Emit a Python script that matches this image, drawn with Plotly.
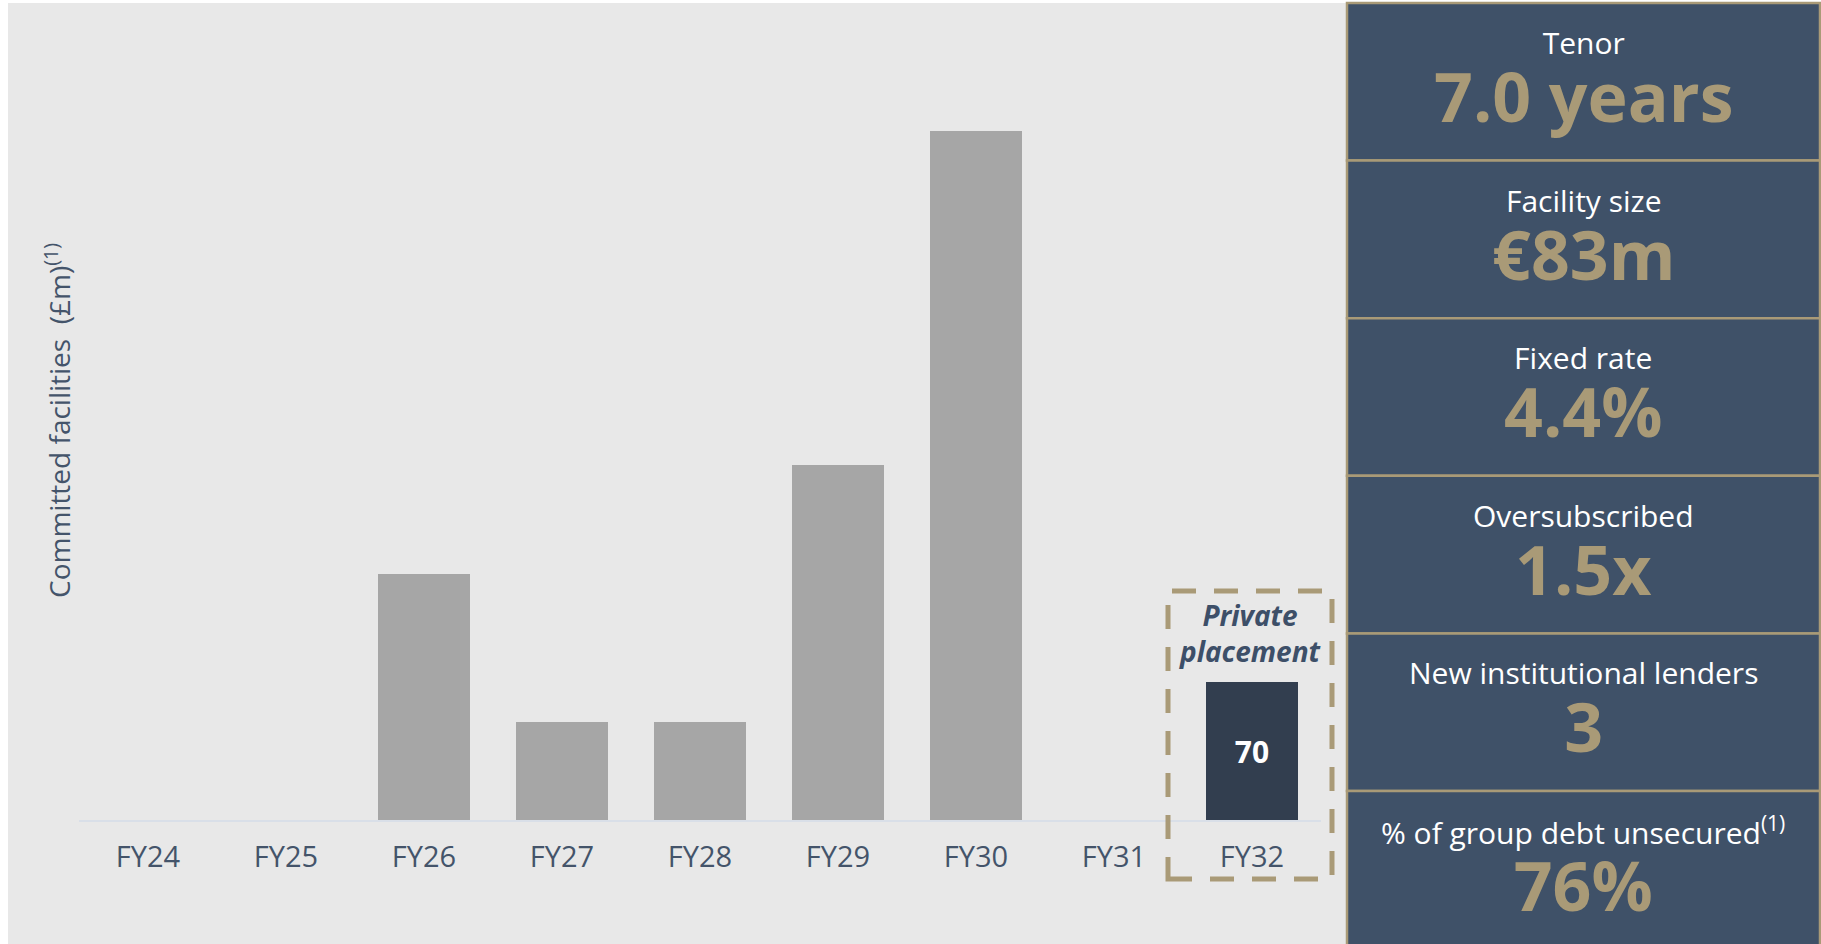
import plotly.graph_objects as go

W, H = 1821, 944

# ---- data ----
categories = ["FY24", "FY25", "FY26", "FY27", "FY28", "FY29", "FY30", "FY31", "FY32"]
existing_base = [None, None, 125, 50, 50, 180, 250, None, None]
existing_top = [None, None, None, None, None, None, 100, None, None]
private_placement = [None, None, None, None, None, None, None, None, 70]

panel_labels = ["Tenor", "Facility size", "Fixed rate", "Oversubscribed",
                "New institutional lenders", "% of group debt unsecured<sup>(1)</sup>"]
panel_values = ["7.0 years", "€83m", "4.4%", "1.5x", "3", "76%"]

# ---- styles ----
BG = "#e8e8e8"
GREY = "#a6a6a6"
NAVY_BAR = "#323e4f"
PANEL = "#3f5168"
GOLD = "#a99a77"
SLATE = "#44546a"
FONT = "Open Sans"


def px(x):
    return x / W


def py(y):
    return 1 - y / H


fig = go.Figure()
fig.add_trace(go.Bar(x=categories, y=existing_base, marker_color=GREY,
                     marker_line_width=0, hoverinfo="skip"))
fig.add_trace(go.Bar(x=categories, y=existing_top, marker_color=GREY,
                     marker_line_width=0, hoverinfo="skip"))
fig.add_trace(go.Bar(x=categories, y=private_placement, marker_color=NAVY_BAR,
                     marker_line_width=0,
                     text=[None if v is None else f"{v}" for v in private_placement],
                     textposition="inside", insidetextanchor="middle",
                     textfont=dict(family=FONT, size=30, color="white", weight="bold"),
                     hoverinfo="skip"))

shapes = []
# chart background
shapes.append(dict(type="rect", xref="paper", yref="paper", layer="below",
                   x0=px(8), x1=px(1346), y0=py(944), y1=py(3),
                   fillcolor=BG, line_width=0))
# dashed private placement box
shapes.append(dict(type="rect", xref="paper", yref="paper", layer="above",
                   x0=px(1168), x1=px(1332), y0=py(879), y1=py(591),
                   fillcolor="rgba(0,0,0,0)",
                   line=dict(color=GOLD, width=5, dash="24px,18px")))

annotations = []
# side panel boxes: one annotation per box (label line + value line)
box_top = 3
box_h = 157.6
for i, (lab, val) in enumerate(zip(panel_labels, panel_values)):
    y0 = box_top + i * box_h
    shapes.append(dict(type="rect", xref="paper", yref="paper", layer="above",
                       x0=px(1347), x1=px(1820), y0=py(y0 + box_h), y1=py(y0),
                       fillcolor=PANEL, line=dict(color=GOLD, width=2.5)))
    txt = (f"<span style='font-size:30px;color:white'>{lab}</span><br>"
           f"<span style='font-size:68px;color:{GOLD}'><b>{val}</b></span>")
    annotations.append(dict(xref="paper", yref="paper", x=px(1583), y=py(y0 + 79),
                            text=txt, showarrow=False, xanchor="center", yanchor="middle",
                            align="center",
                            font=dict(family=FONT, size=52, color="white")))

# private placement label (two lines)
annotations.append(dict(xref="paper", yref="paper", x=px(1250), y=py(633),
                        text="<b><i>Private</i></b><br><b><i>placement</i></b>",
                        showarrow=False, xanchor="center", yanchor="middle",
                        font=dict(family=FONT, size=28, color="#3d4f68")))
# y-axis title
annotations.append(dict(xref="paper", yref="paper", x=px(57), y=py(421),
                        text="Committed facilities  (£m)<sup>(1)</sup>", showarrow=False,
                        textangle=-90, xanchor="center", yanchor="middle",
                        font=dict(family=FONT, size=28, color=SLATE)))

fig.update_layout(
    width=W, height=H,
    margin=dict(l=0, r=0, t=0, b=0),
    paper_bgcolor="white",
    plot_bgcolor="rgba(0,0,0,0)",
    barmode="stack",
    bargap=0.33,
    showlegend=False,
    shapes=shapes,
    annotations=annotations,
    xaxis=dict(domain=[px(79), px(1321)], range=[-0.5, 8.5], type="category",
               showgrid=False, zeroline=False, showline=True, linecolor="#d9dfe8",
               linewidth=2, ticks="", ticklabelstandoff=10,
               tickfont=dict(family=FONT, size=29, color=SLATE)),
    yaxis=dict(domain=[py(820), py(32)], range=[0, 400], visible=False,
               showgrid=False, zeroline=False),
)

fig.write_html("out.html")
